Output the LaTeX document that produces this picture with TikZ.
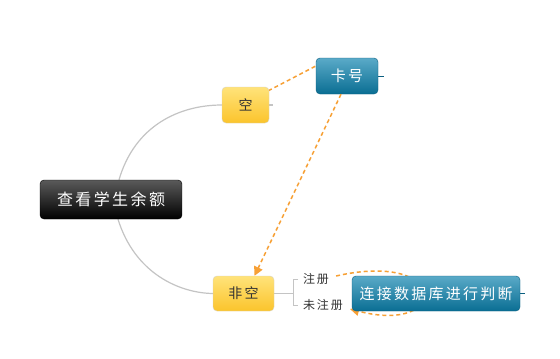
\documentclass[tikz,border=0pt]{standalone}
\usepackage{fontspec}
\newfontfamily\cjk[LetterSpace=15]{Noto Sans CJK SC}
\usetikzlibrary{arrows.meta,backgrounds}
\definecolor{rootbot}{HTML}{000000}
\definecolor{roottop}{HTML}{5A5A5A}
\definecolor{yeltop}{HTML}{FFE37A}
\definecolor{yelbot}{HTML}{FBC42C}
\definecolor{yelline}{HTML}{D8D2C0}
\definecolor{tealtop}{HTML}{5AAAC8}
\definecolor{tealbot}{HTML}{0A6E93}
\definecolor{tealline}{HTML}{0B5F80}
\definecolor{dashorange}{HTML}{F7A035}
\definecolor{branch}{HTML}{C4C4C4}
\definecolor{darktext}{HTML}{333333}

\tikzset{
  rootbox/.style={draw=black, rounded corners=4pt, top color=roottop, bottom color=rootbot,
    minimum width=142pt, minimum height=39pt, text=white, font=\cjk\fontsize{16}{18}\selectfont},
  yelbox/.style={draw=yelline, rounded corners=4pt, top color=yeltop, bottom color=yelbot,
    minimum height=36pt, text=darktext, font=\cjk\fontsize{14}{16}\selectfont},
  tealbox/.style={draw=tealline, rounded corners=4pt, top color=tealtop, bottom color=tealbot,
    minimum height=36pt, text=white, font=\cjk\fontsize{15}{17}\selectfont},
  tag/.style={text=darktext, inner sep=1pt, font=\cjk\fontsize{12}{14}\selectfont},
  branchline/.style={branch, line width=1.2pt},
  link/.style={dashorange, line width=1.5pt, dash pattern=on 4pt off 3pt},
  linkarrow/.style={link, -{Triangle[length=9pt,width=9pt]}}
}

\begin{document}
\begin{tikzpicture}[x=1pt,y=-1pt]
\useasboundingbox (0,0) rectangle (560,359);
% topics
\node[rootbox] (root) at (111,199.5) {查看学生余额};
\node[yelbox, minimum width=47pt] (empty) at (245.5,105) {空};
\node[yelbox, minimum width=61pt, minimum height=35pt] (nonempty) at (243.5,293.5) {非空};
\node[tealbox, minimum width=62pt] (cardno) at (347,76) {卡号};
\node[tealbox, minimum width=168pt, minimum height=35pt] (dbcheck) at (436,293.5) {连接数据库进行判断};
\node[tag] (reg) at (316,279) {注册};
\node[tag] (unreg) at (323,305) {未注册};
% branches
\begin{scope}[on background layer]
\fill[white] (0,0) rectangle (560,359);
\draw[branchline] (root.north) ++(8,0) .. controls (135,125) and (180,105) .. (empty.west);
\draw[branchline] (root.south) ++(7,0) .. controls (135,274) and (180,293) .. (nonempty.west);
\draw[branchline] (empty.east) -- ++(4,0);
\draw[tealline, line width=1pt] (cardno.east) -- ++(6,0);
\draw[tealline, line width=1pt] (dbcheck.east) -- ++(5,0);
\draw[branchline, line width=1pt] (nonempty.east) -- (293,293.5);
\draw[branchline, line width=1pt] (298,279) -- (293,279) -- (293,305) -- (298,305);
% relations
\draw[link] (empty.north east) ++(-1,4) -- ([yshift=10pt]cardno.west);
\draw[linkarrow] (reg.east) ++(6,-3) .. controls (450,250) and (450,335) .. ([xshift=6pt,yshift=-4pt]unreg.east);
\end{scope}
\draw[linkarrow] ([xshift=-6pt]cardno.south) -- ([xshift=11pt]nonempty.north);
\end{tikzpicture}
\end{document}
